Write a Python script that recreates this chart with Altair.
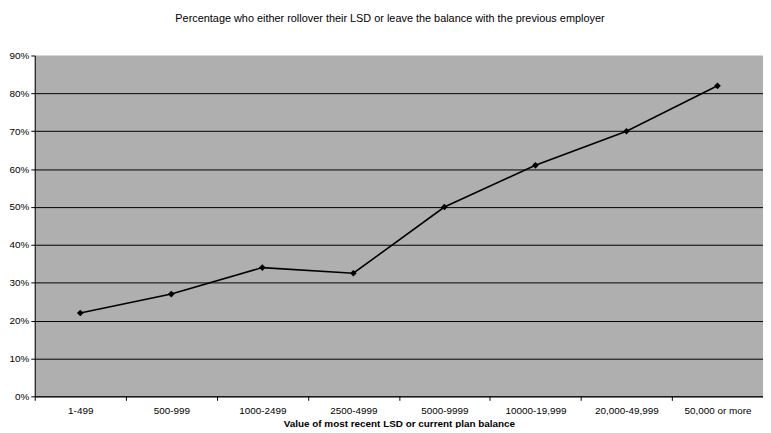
import altair as alt
import pandas as pd

categories = ["1-499", "500-999", "1000-2499", "2500-4999", "5000-9999",
              "10000-19,999", "20,000-49,999", "50,000 or more"]
values = [0.22, 0.27, 0.34, 0.325, 0.50, 0.61, 0.70, 0.82]

df = pd.DataFrame({"cat": categories, "val": values})

x = alt.X("cat:N", sort=categories, bandPosition=0.5,
          scale=alt.Scale(type="band", paddingInner=0, paddingOuter=0),
          axis=alt.Axis(title="Value of most recent LSD or current plan balance",
                        labelAngle=0, tickBand="extent", grid=False,
                        domainColor="black", tickColor="black", tickSize=4,
                        labelFont="Liberation Sans", labelFontSize=10, labelColor="black",
                        labelPadding=5,
                        titleFont="Liberation Sans", titleFontSize=10, titleFontWeight="bold",
                        titleColor="black", titlePadding=3))
y = alt.Y("val:Q",
          scale=alt.Scale(domain=[0, 0.9], nice=False),
          axis=alt.Axis(title=None, format=".0%",
                        values=[0, 0.1, 0.2, 0.3, 0.4, 0.5, 0.6, 0.7, 0.8, 0.9],
                        grid=True, gridColor="black", gridWidth=1,
                        gridOpacity={"condition": {"test": "datum.value >= 0.89", "value": 0}, "value": 1},
                        domainColor="black", tickColor="black", tickSize=4,
                        labelFont="Liberation Sans", labelFontSize=10, labelColor="black",
                        labelPadding=2))

base = alt.Chart(df)
line = base.mark_line(color="black", strokeWidth=1.6).encode(x=x, y=y)
pts = base.mark_point(shape="diamond", filled=True, color="black", size=45, opacity=1).encode(x=x, y=y)

chart = alt.layer(line, pts).properties(
    width=735, height=344,
    title=alt.TitleParams("Percentage who either rollover their LSD or leave the balance with the previous employer",
                          font="Liberation Sans", fontSize=11, fontWeight="normal", color="black",
                          anchor="middle", dx=-9, offset=27),
    autosize=alt.AutoSizeParams(type="none"),
    padding={"left": 27, "top": 46, "right": 0, "bottom": 30},
).configure_view(fill="#afafaf", stroke=None)

chart.save("out.html", embed_options={"renderer": "svg", "actions": False})
